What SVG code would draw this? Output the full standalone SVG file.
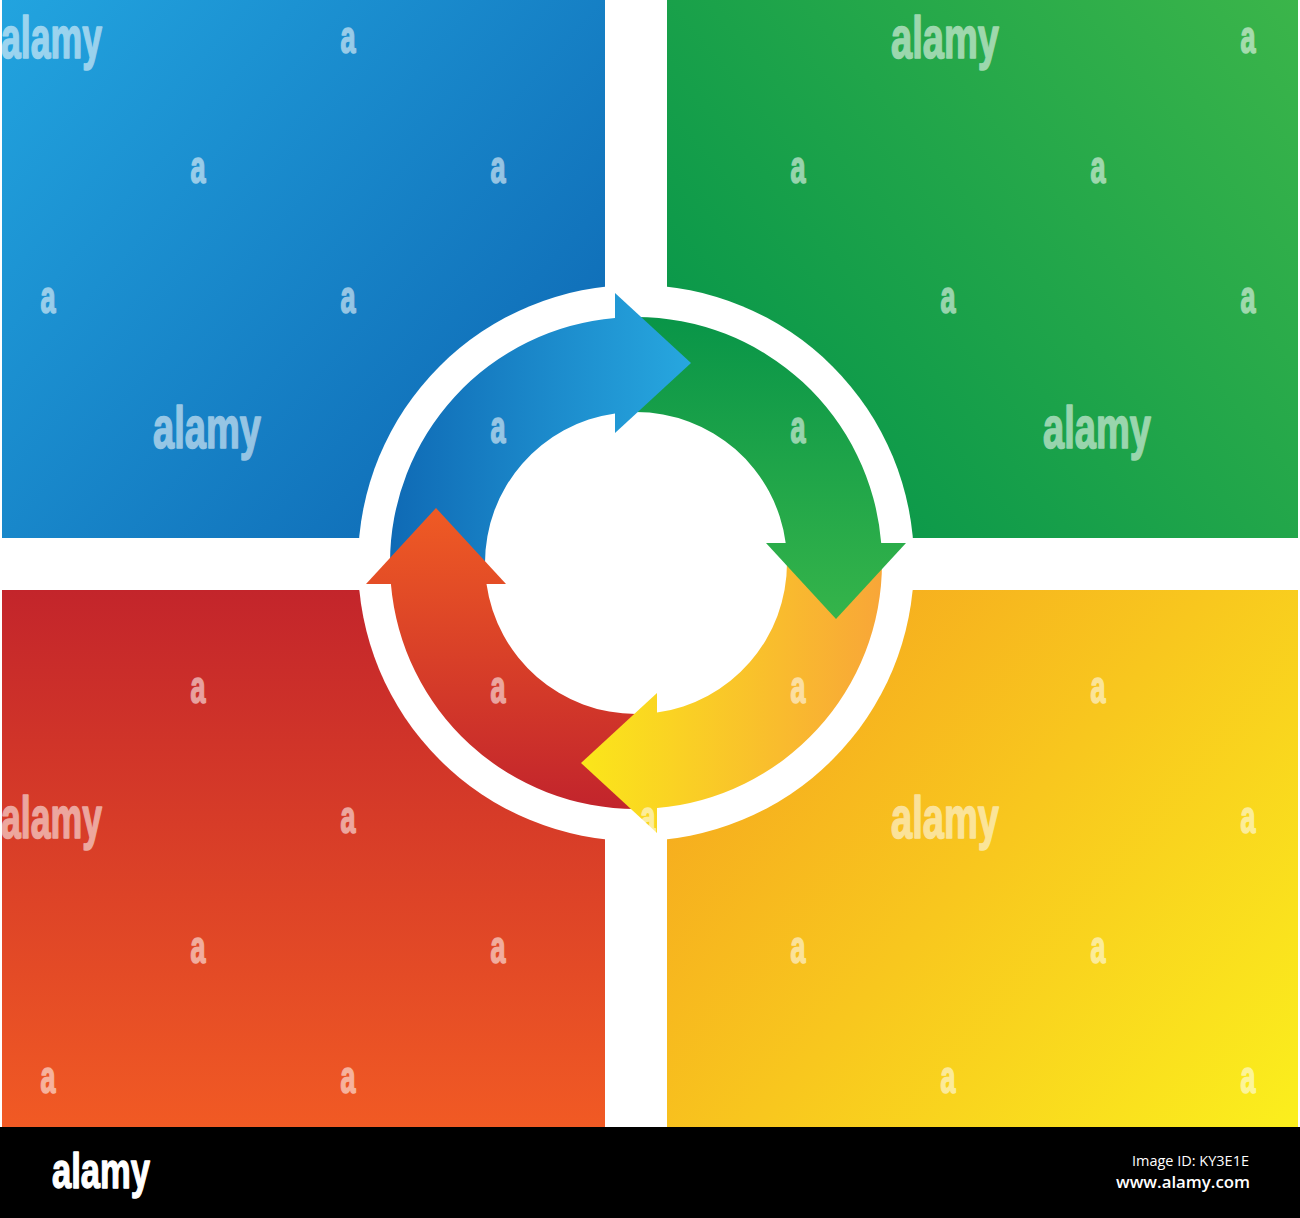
<svg xmlns="http://www.w3.org/2000/svg" width="1300" height="1218" viewBox="0 0 1300 1218">
<defs>
<style>
.wm text{fill:#ffffff;stroke:#ffffff;stroke-width:1.6px;stroke-linejoin:round;opacity:0.55;font-family:"Liberation Sans",Arial,sans-serif;font-weight:bold}
.wa{font-size:46px}
.wl{font-size:60px}
.foot{fill:#ffffff;font-family:"Open Sans","DejaVu Sans",sans-serif}
</style>
<linearGradient id="gqBlue" gradientUnits="userSpaceOnUse" x1="0" y1="0" x2="605" y2="538">
<stop offset="0" stop-color="#22a4df"/><stop offset="1" stop-color="#0c63b0"/>
</linearGradient>
<linearGradient id="gqGreen" gradientUnits="userSpaceOnUse" x1="1300" y1="0" x2="667" y2="538">
<stop offset="0" stop-color="#3bb54a"/><stop offset="1" stop-color="#00924a"/>
</linearGradient>
<linearGradient id="gqRed" gradientUnits="userSpaceOnUse" x1="0" y1="590" x2="0" y2="1127">
<stop offset="0" stop-color="#c3252b"/><stop offset="1" stop-color="#f15a24"/>
</linearGradient>
<linearGradient id="gqYellow" gradientUnits="userSpaceOnUse" x1="667" y1="590" x2="1298" y2="1127">
<stop offset="0" stop-color="#f59f1f"/><stop offset="1" stop-color="#fbef1d"/>
</linearGradient>
<linearGradient id="gaBlue" gradientUnits="userSpaceOnUse" x1="390" y1="0" x2="691" y2="0">
<stop offset="0" stop-color="#0f6ab5"/><stop offset="1" stop-color="#27a7df"/>
</linearGradient>
<linearGradient id="gaGreen" gradientUnits="userSpaceOnUse" x1="0" y1="317" x2="0" y2="619">
<stop offset="0" stop-color="#099548"/><stop offset="1" stop-color="#35b44a"/>
</linearGradient>
<linearGradient id="gaYellow" gradientUnits="userSpaceOnUse" x1="581" y1="0" x2="882" y2="0">
<stop offset="0" stop-color="#fbe61a"/><stop offset="1" stop-color="#f8a638"/>
</linearGradient>
<linearGradient id="gaRed" gradientUnits="userSpaceOnUse" x1="0" y1="508" x2="0" y2="809">
<stop offset="0" stop-color="#ef5b24"/><stop offset="1" stop-color="#c2242c"/>
</linearGradient>
</defs>
<rect x="0" y="0" width="1300" height="1218" fill="#ffffff"/>
<g id="quadrant-blue"><rect x="2" y="0" width="603" height="538" fill="url(#gqBlue)"/></g>
<g id="quadrant-green"><rect x="667" y="0" width="631" height="538" fill="url(#gqGreen)"/></g>
<g id="quadrant-red"><rect x="2" y="590" width="603" height="537" fill="url(#gqRed)"/></g>
<g id="quadrant-yellow"><rect x="667" y="590" width="631" height="537" fill="url(#gqYellow)"/></g>
<g id="center-disc"><circle cx="636" cy="563" r="278" fill="#ffffff"/></g>
<g id="connectors">
<path id="arrow-blue-body" d="M390,563 A246,246 0 0 1 615,317.9 L615,413.5 A151,151 0 0 0 485,563 Z" fill="url(#gaBlue)"/>
<path id="arrow-green-body" d="M636,317 A246,246 0 0 1 881.2,543 L785.7,543 A151,151 0 0 0 636,412 Z" fill="url(#gaGreen)"/>
<path id="arrow-yellow-body" d="M882,563 A246,246 0 0 1 657,808.1 L657,712.5 A151,151 0 0 0 787,563 Z" fill="url(#gaYellow)"/>
<path id="arrow-red-body" d="M636,809 A246,246 0 0 1 390.9,584 L486.5,584 A151,151 0 0 0 636,714 Z" fill="url(#gaRed)"/>
<path id="arrow-blue-head" d="M615,293 L691,363 L615,433 Z" fill="url(#gaBlue)"/>
<path id="arrow-green-head" d="M766,543 L906,543 L836,619 Z" fill="url(#gaGreen)"/>
<path id="arrow-yellow-head" d="M657,693 L657,833 L581,763 Z" fill="url(#gaYellow)"/>
<path id="arrow-red-head" d="M366,584 L506,584 L436,508 Z" fill="url(#gaRed)"/>
</g>
<g id="watermarks" class="wm">
<text class="wl" x="1" y="58" textLength="101" lengthAdjust="spacingAndGlyphs">alamy</text>
<text class="wl" x="891" y="58" textLength="108" lengthAdjust="spacingAndGlyphs">alamy</text>
<text class="wa" x="340.5" y="53" textLength="15" lengthAdjust="spacingAndGlyphs">a</text>
<text class="wa" x="1240.5" y="53" textLength="15" lengthAdjust="spacingAndGlyphs">a</text>
<text class="wa" x="190.5" y="183" textLength="15" lengthAdjust="spacingAndGlyphs">a</text>
<text class="wa" x="490.5" y="183" textLength="15" lengthAdjust="spacingAndGlyphs">a</text>
<text class="wa" x="790.5" y="183" textLength="15" lengthAdjust="spacingAndGlyphs">a</text>
<text class="wa" x="1090.5" y="183" textLength="15" lengthAdjust="spacingAndGlyphs">a</text>
<text class="wa" x="40.5" y="313" textLength="15" lengthAdjust="spacingAndGlyphs">a</text>
<text class="wa" x="340.5" y="313" textLength="15" lengthAdjust="spacingAndGlyphs">a</text>
<text class="wa" x="940.5" y="313" textLength="15" lengthAdjust="spacingAndGlyphs">a</text>
<text class="wa" x="1240.5" y="313" textLength="15" lengthAdjust="spacingAndGlyphs">a</text>
<text class="wl" x="153" y="448" textLength="108" lengthAdjust="spacingAndGlyphs">alamy</text>
<text class="wl" x="1043" y="448" textLength="108" lengthAdjust="spacingAndGlyphs">alamy</text>
<text class="wa" x="490.5" y="443" textLength="15" lengthAdjust="spacingAndGlyphs">a</text>
<text class="wa" x="790.5" y="443" textLength="15" lengthAdjust="spacingAndGlyphs">a</text>
<text class="wa" x="190.5" y="703" textLength="15" lengthAdjust="spacingAndGlyphs">a</text>
<text class="wa" x="490.5" y="703" textLength="15" lengthAdjust="spacingAndGlyphs">a</text>
<text class="wa" x="790.5" y="703" textLength="15" lengthAdjust="spacingAndGlyphs">a</text>
<text class="wa" x="1090.5" y="703" textLength="15" lengthAdjust="spacingAndGlyphs">a</text>
<text class="wl" x="1" y="838" textLength="101" lengthAdjust="spacingAndGlyphs">alamy</text>
<text class="wl" x="891" y="838" textLength="108" lengthAdjust="spacingAndGlyphs">alamy</text>
<text class="wa" x="340.5" y="833" textLength="15" lengthAdjust="spacingAndGlyphs">a</text>
<text class="wa" x="640.5" y="833" textLength="15" lengthAdjust="spacingAndGlyphs">a</text>
<text class="wa" x="1240.5" y="833" textLength="15" lengthAdjust="spacingAndGlyphs">a</text>
<text class="wa" x="190.5" y="963" textLength="15" lengthAdjust="spacingAndGlyphs">a</text>
<text class="wa" x="490.5" y="963" textLength="15" lengthAdjust="spacingAndGlyphs">a</text>
<text class="wa" x="790.5" y="963" textLength="15" lengthAdjust="spacingAndGlyphs">a</text>
<text class="wa" x="1090.5" y="963" textLength="15" lengthAdjust="spacingAndGlyphs">a</text>
<text class="wa" x="40.5" y="1093" textLength="15" lengthAdjust="spacingAndGlyphs">a</text>
<text class="wa" x="340.5" y="1093" textLength="15" lengthAdjust="spacingAndGlyphs">a</text>
<text class="wa" x="940.5" y="1093" textLength="15" lengthAdjust="spacingAndGlyphs">a</text>
<text class="wa" x="1240.5" y="1093" textLength="15" lengthAdjust="spacingAndGlyphs">a</text>
</g>
<g id="footer">
<rect x="0" y="1127" width="1300" height="91" fill="#000000"/>
<text x="52" y="1188" fill="#ffffff" stroke="#ffffff" stroke-width="1.4" stroke-linejoin="round" font-family="Liberation Sans, Arial, sans-serif" font-weight="bold" font-size="50" textLength="98" lengthAdjust="spacingAndGlyphs">alamy</text>
<text class="foot" x="1132" y="1166" font-size="15" textLength="117" lengthAdjust="spacingAndGlyphs">Image ID: KY3E1E</text>
<text class="foot" x="1116" y="1188" font-size="16" font-weight="600" textLength="134" lengthAdjust="spacingAndGlyphs">www.alamy.com</text>
</g>
</svg>
